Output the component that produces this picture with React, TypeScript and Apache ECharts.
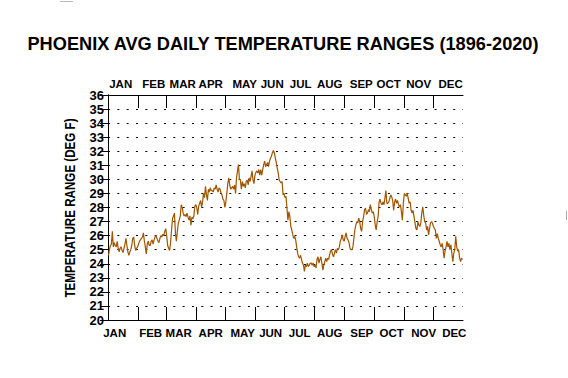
import React, { useEffect, useRef } from "react";
import * as echarts from "echarts";

const titleText = "PHOENIX AVG DAILY TEMPERATURE RANGES (1896-2020)";
const yAxisTitle = "TEMPERATURE RANGE (DEG F)";
const months = ["JAN", "FEB", "MAR", "APR", "MAY", "JUN", "JUL", "AUG", "SEP", "OCT", "NOV", "DEC"];
// day-of-year where each month begins (after Jan) -> tick marks
const monthBoundaryDay = [31, 60, 91, 121, 152, 182, 213, 244, 274, 305, 335];
// where the month names sit along the day axis
const bottomLabelDay = [6.9, 44.0, 72.9, 105.9, 138.9, 167.7, 197.6, 228.6, 261.6, 292.5, 325.5, 357.0];
const topLabelDay = [13.1, 47.1, 77.0, 105.9, 140.9, 169.3, 198.6, 228.6, 261.1, 289.4, 320.3, 353.3];
const yMin = 20;
const yMax = 36;
const yStep = 1;
const daysInYear = 366;

// average daily temperature range (deg F), day by day
const jan = [24.6, 25.0, 25.3, 25.4, 26.3, 25.2, 25.5, 25.3, 25.2, 25.6, 25.1, 24.85, 25.1, 25.2, 24.95, 24.8, 25.1, 25.4, 25.8, 25.3, 24.85, 24.6, 24.85, 25.0, 25.3, 25.8, 25.9, 25.3, 24.95, 25.1, 25.2];
const feb = [25.4, 25.6, 25.7, 25.8, 25.9, 26.2, 25.6, 25.2, 24.7, 25.4, 25.6, 25.3, 25.3, 25.6, 25.7, 25.4, 25.7, 25.9, 26.0, 25.8, 25.6, 25.5, 25.8, 26.0, 25.9, 26.1, 26.0, 26.3, 26.5];
const mar = [26.0, 25.3, 25.1, 24.95, 25.5, 26.4, 27.2, 27.4, 27.6, 26.2, 25.6, 26.3, 26.9, 27.1, 27.4, 28.2, 28.0, 27.6, 27.4, 27.5, 27.35, 27.6, 27.3, 27.1, 27.4, 26.75, 27.3, 27.2, 27.4, 28.1, 28.2];
const apr = [28.0, 27.5, 28.1, 28.3, 28.5, 28.0, 28.4, 29.0, 28.7, 29.5, 28.9, 28.5, 29.3, 29.1, 29.4, 29.2, 29.2, 29.1, 29.4, 29.3, 29.6, 29.3, 29.1, 29.4, 29.3, 29.0, 28.9, 28.6, 28.5, 28.0];
const may = [28.4, 29.0, 29.7, 30.1, 29.6, 29.3, 29.4, 29.5, 29.3, 29.6, 29.0, 30.1, 30.6, 31.05, 30.0, 29.95, 29.3, 29.85, 29.5, 29.7, 29.4, 29.85, 29.95, 29.6, 30.1, 29.85, 30.2, 30.6, 29.95, 29.7, 30.3];
const jun = [30.5, 30.6, 30.45, 30.7, 30.3, 30.7, 30.3, 30.7, 31.05, 31.3, 30.9, 31.05, 31.2, 30.9, 31.3, 31.5, 31.65, 31.9, 32.05, 31.9, 31.5, 31.2, 30.8, 30.45, 29.95, 29.85, 29.75, 29.85, 28.9, 29.0];
const jul = [28.7, 28.8, 27.95, 27.1, 27.7, 27.35, 26.65, 26.4, 26.05, 25.8, 25.95, 25.7, 25.2, 24.75, 24.5, 24.4, 24.6, 24.3, 24.05, 23.9, 23.45, 23.9, 23.8, 24.05, 23.8, 23.9, 24.05, 24.05, 23.9, 24.05, 23.8];
const aug = [23.9, 23.7, 24.3, 24.5, 24.05, 24.3, 24.5, 24.05, 23.55, 23.9, 24.15, 24.4, 24.15, 24.4, 24.3, 24.65, 24.9, 25.0, 24.65, 24.5, 24.75, 25.0, 24.75, 25.1, 25.0, 25.2, 25.6, 25.8, 26.05, 25.7, 25.6];
const sep = [25.95, 26.2, 25.8, 25.7, 25.5, 25.1, 25.0, 25.0, 25.2, 25.8, 26.4, 26.75, 27.0, 26.9, 27.25, 27.0, 26.5, 26.3, 27.0, 27.35, 27.85, 27.95, 27.5, 27.6, 27.85, 27.7, 28.2, 27.85, 27.6, 27.7];
const oct = [27.35, 26.75, 26.4, 27.0, 27.35, 28.4, 28.6, 28.3, 28.2, 28.4, 28.2, 28.65, 29.2, 28.3, 28.3, 28.4, 28.65, 28.9, 28.75, 28.5, 27.8, 28.4, 28.6, 28.3, 28.5, 28.2, 28.05, 28.2, 27.7, 27.1, 28.3];
const nov = [29.0, 28.9, 28.8, 29.0, 28.65, 28.3, 28.4, 27.8, 27.6, 27.8, 27.35, 26.9, 26.5, 26.4, 27.0, 26.75, 26.65, 26.9, 27.6, 28.05, 27.45, 27.0, 26.9, 26.4, 26.65, 26.05, 26.5, 26.9, 27.0, 26.9];
const dec = [26.65, 26.5, 26.4, 25.8, 26.15, 25.8, 25.6, 25.35, 25.2, 25.45, 25.0, 24.4, 24.9, 25.2, 25.6, 25.2, 25.45, 25.0, 25.35, 24.75, 24.15, 24.75, 25.0, 25.95, 25.2, 24.9, 25.0, 24.4, 24.15, 24.4, 24.3];

const dailyRange = [...jan, ...feb, ...mar, ...apr, ...may, ...jun, ...jul, ...aug, ...sep, ...oct, ...nov, ...dec];

const FONT = "'Liberation Sans', Arial, Helvetica, sans-serif";

export default function App() {
  const ref = useRef<HTMLDivElement>(null);

  useEffect(() => {
    if (!ref.current) return;
    const chart = echarts.init(ref.current, null, { renderer: "svg" });

    const monthAxis = (position: "top" | "bottom", labelDays: number[], margin: number) => ({
      type: "value",
      position,
      min: 0,
      max: daysInYear,
      axisLine: { show: true, lineStyle: { color: "#000", width: 1 } },
      axisTick: {
        show: true,
        inside: true,
        length: 13,
        customValues: monthBoundaryDay,
        lineStyle: { color: "#000", width: 1 },
      },
      axisLabel: {
        show: true,
        customValues: labelDays,
        margin,
        color: "#000",
        fontFamily: FONT,
        fontWeight: "bold",
        fontSize: 11.5,
        formatter: (v: number) => {
          const i = labelDays.findIndex((d) => Math.abs(d - v) < 1e-6);
          return i >= 0 ? months[i] : "";
        },
      },
      splitLine: { show: false },
    });

    chart.setOption({
      animation: false,
      backgroundColor: "#fff",
      grid: { left: 108, right: 105, top: 95, bottom: 58, containLabel: false },
      xAxis: [monthAxis("bottom", bottomLabelDay, 7), monthAxis("top", topLabelDay, 5)],
      yAxis: [
        {
          type: "value",
          position: "left",
          min: yMin,
          max: yMax,
          interval: yStep,
          axisLine: { show: true, lineStyle: { color: "#000", width: 1 } },
          axisTick: { show: false },
          axisLabel: {
            color: "#000",
            fontFamily: FONT,
            fontWeight: "bold",
            fontSize: 13,
            margin: 4,
          },
          splitLine: {
            show: true,
            lineStyle: { color: "#000", width: 1, type: [2, 7.33] },
          },
        },
        {
          type: "value",
          position: "right",
          min: yMin,
          max: yMax,
          interval: yStep,
          axisLine: { show: true, lineStyle: { color: "#000", width: 1 } },
          axisTick: { show: true, inside: true, length: 8, lineStyle: { color: "#000", width: 1 } },
          axisLabel: { show: false },
          splitLine: { show: false },
        },
      ],
      series: [
        {
          type: "line",
          xAxisIndex: 0,
          yAxisIndex: 0,
          data: dailyRange.map((v, i) => [i + 0.5, v]),
          showSymbol: false,
          symbol: "none",
          lineStyle: { color: "#9E5600", width: 1.2 },
          silent: true,
        },
      ],
      graphic: [
        {
          type: "text",
          x: 283,
          y: 44,
          style: {
            text: titleText,
            fill: "#000",
            font: `bold 18.2px ${FONT}`,
            textAlign: "center",
            textVerticalAlign: "middle",
          },
        },
        {
          type: "text",
          x: 70,
          y: 208,
          rotation: Math.PI / 2,
          scaleX: 0.83,
          style: {
            text: yAxisTitle,
            fill: "#000",
            font: `bold 14px ${FONT}`,
            textAlign: "center",
            textVerticalAlign: "middle",
          },
        },
        {
          type: "line",
          shape: { x1: 60, y1: 1.5, x2: 73, y2: 1.5 },
          style: { stroke: "#bbbbbb", lineWidth: 1 },
        },
        {
          type: "line",
          shape: { x1: 566.5, y1: 211, x2: 566.5, y2: 220 },
          style: { stroke: "#aaaaaa", lineWidth: 1 },
        },
      ],
    });

    return () => chart.dispose();
  }, []);

  return (
    <div
      ref={ref}
      style={{ position: "fixed", left: 0, top: 0, width: 568, height: 378, background: "#fff" }}
    />
  );
}
